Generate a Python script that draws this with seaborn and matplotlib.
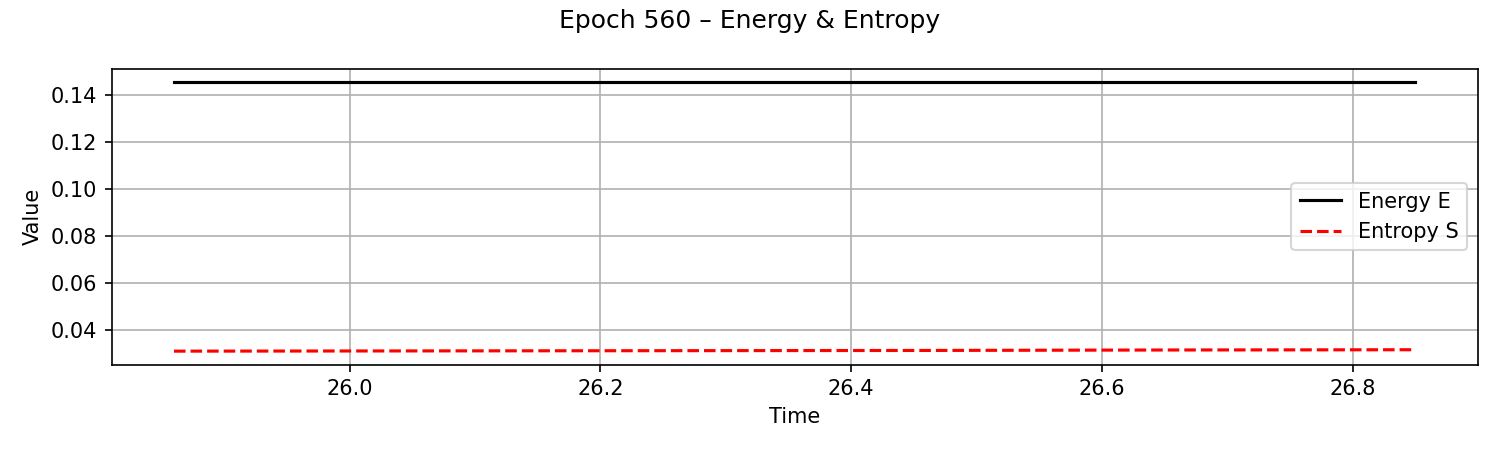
import matplotlib
matplotlib.use("Agg")
import matplotlib.pyplot as plt
import seaborn as sns
import pandas as pd

time = [25.86, 26.06, 26.26, 26.46, 26.66, 26.85]
energy = [0.1454, 0.1454, 0.1454, 0.1454, 0.1454, 0.1454]
entropy = [0.0310, 0.0311, 0.0312, 0.0313, 0.0315, 0.0316]

df = pd.DataFrame({"Time": time, "Energy E": energy, "Entropy S": entropy})

fig, ax = plt.subplots(figsize=(10, 3), dpi=150)
sns.lineplot(data=df, x="Time", y="Energy E", ax=ax, color="black", linewidth=1.5, label="Energy E")
sns.lineplot(data=df, x="Time", y="Entropy S", ax=ax, color="red", linewidth=1.5, linestyle="--", label="Entropy S")
ax.set_xlabel("Time")
ax.set_ylabel("Value")
ax.grid(True)
ax.legend(loc="center right")
fig.suptitle("Epoch 560 – Energy & Entropy")
fig.tight_layout()
fig.savefig("out.png", dpi=150)
